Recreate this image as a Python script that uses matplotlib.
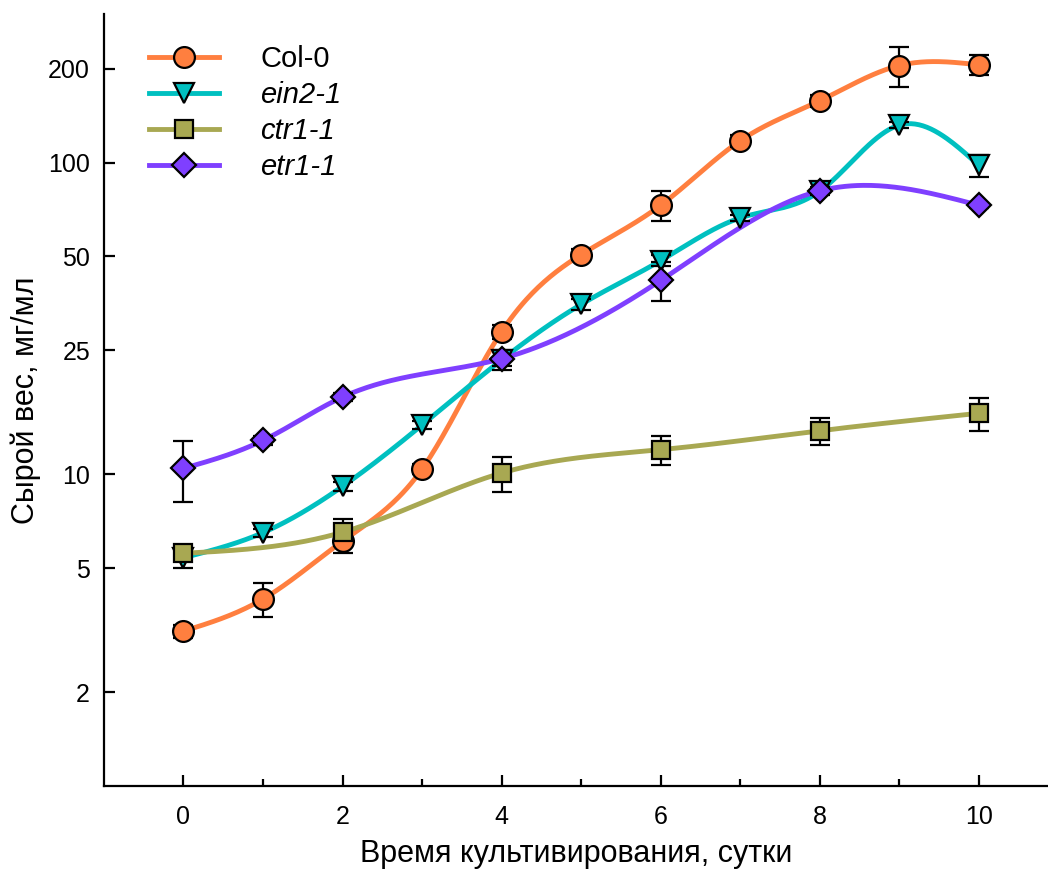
import numpy as np
import matplotlib
matplotlib.use("Agg")
import matplotlib.pyplot as plt
from matplotlib.lines import Line2D

plt.rcParams['font.family'] = ['Liberation Sans', 'DejaVu Sans']

# data
days_col = [0, 1, 2, 3, 4, 5, 6, 7, 8, 9, 10]
col0 = [3.14, 3.98, 6.1, 10.4, 28.7, 50.7, 73.0, 117.6, 158, 205, 206]
col0_err = [0.15, 0.5, 0.5, 0.4, 1.5, 2.0, 8.0, 5.0, 7.0, 30.0, 15.0]

days_ein = [0, 1, 2, 3, 4, 5, 6, 7, 8, 9, 10]
ein2 = [5.4, 6.5, 9.15, 14.4, 23.3, 35.1, 48.5, 66.5, 81.0, 132, 98]
ein2_err = [0.4, 0.2, 0.3, 0.4, 1.7, 1.5, 2.0, 1.5, 2.5, 3.0, 8.0]

days_ctr = [0, 2, 4, 6, 8, 10]
ctr1 = [5.58, 6.52, 10.1, 12.0, 13.8, 15.7]
ctr1_err = [0.3, 0.65, 1.3, 1.3, 1.4, 1.9]

days_etr = [0, 1, 2, 4, 6, 8, 10]
etr1 = [10.45, 12.85, 17.7, 23.5, 41.9, 81.2, 73.0]
etr1_err = [2.3, 0.4, 0.5, 1.2, 6.0, 2.0, 1.5]

labels = ['Col-0', 'ein2-1', 'ctr1-1', 'etr1-1']
colors = ['#FF7F3F', '#00C0C0', '#A8A852', '#7F3FFF']
markers = ['o', 'v', 's', 'D']
msizes = [15, 15, 13, 12]


def natural_spline(x, y, xs):
    x = np.asarray(x, float)
    y = np.asarray(y, float)
    n = len(x)
    h = np.diff(x)
    A = np.zeros((n, n))
    b = np.zeros(n)
    A[0, 0] = 1
    A[-1, -1] = 1
    for i in range(1, n - 1):
        A[i, i - 1] = h[i - 1]
        A[i, i] = 2 * (h[i - 1] + h[i])
        A[i, i + 1] = h[i]
        b[i] = 6 * ((y[i + 1] - y[i]) / h[i] - (y[i] - y[i - 1]) / h[i - 1])
    M = np.linalg.solve(A, b)
    idx = np.clip(np.searchsorted(x, xs) - 1, 0, n - 2)
    x0, x1 = x[idx], x[idx + 1]
    hh = x1 - x0
    t0, t1 = x1 - xs, xs - x0
    return (M[idx] * t0 ** 3 / (6 * hh) + M[idx + 1] * t1 ** 3 / (6 * hh)
            + (y[idx] / hh - M[idx] * hh / 6) * t0
            + (y[idx + 1] / hh - M[idx + 1] * hh / 6) * t1)


fig = plt.figure(figsize=(10.48, 8.74), dpi=100)
ax = fig.add_axes([0.0992, 0.1007, 0.9008, 0.8833])

series = [(days_col, col0, col0_err), (days_ein, ein2, ein2_err),
          (days_ctr, ctr1, ctr1_err), (days_etr, etr1, etr1_err)]

for k, (x, y, e) in enumerate(series):
    xs = np.linspace(x[0], x[-1], 400)
    ys = 10 ** natural_spline(x, np.log10(y), xs)
    ax.plot(xs, ys, color=colors[k], lw=3.5, zorder=2 + k * 0.1)
    ax.errorbar(x, y, yerr=e, fmt='none', ecolor='black', elinewidth=1.6,
                capsize=7, capthick=1.6, zorder=3 + k * 0.1)
    ax.plot(x, y, ls='none', marker=markers[k], ms=msizes[k],
            mfc=colors[k], mec='black', mew=1.6, zorder=4 + k * 0.1)

ax.set_yscale('log')
ax.set_ylim(1, 300)
ax.set_xlim(-1, 10.87)
ax.set_yticks([2, 5, 10, 25, 50, 100, 200])
ax.set_yticklabels(['2', '5', '10', '25', '50', '100', '200'])
ax.yaxis.set_minor_locator(matplotlib.ticker.NullLocator())
ax.set_xticks([0, 2, 4, 6, 8, 10])
ax.set_xticks([1, 3, 5, 7, 9], minor=True)
ax.tick_params(axis='y', which='major', direction='in', length=8,
               width=1.6, labelsize=18, pad=10)
ax.tick_params(axis='x', which='major', direction='in', length=8,
               width=1.6, labelsize=18, pad=14)
ax.tick_params(axis='x', which='minor', direction='in', length=5, width=1.6)
for s in ['top', 'right']:
    ax.spines[s].set_visible(False)
for s in ['left', 'bottom']:
    ax.spines[s].set_linewidth(1.6)

ax.set_xlabel('Время культивирования, сутки', fontsize=22, labelpad=7)
ax.set_ylabel('Сырой вес, мг/мл', fontsize=22, labelpad=5)

handles = [Line2D([], [], color=colors[k], lw=3.5, marker=markers[k],
                  ms=msizes[k], mfc=colors[k], mec='black', mew=1.6)
           for k in range(4)]
leg = ax.legend(handles, labels, loc='upper left', frameon=False,
                fontsize=21, bbox_to_anchor=(0.048, 0.96),
                borderaxespad=0, borderpad=0,
                handlelength=2.4, labelspacing=0.28, handletextpad=1.4)
for i, t in enumerate(leg.get_texts()):
    if i > 0:
        t.set_style('italic')

fig.savefig('out.png', dpi=100)
